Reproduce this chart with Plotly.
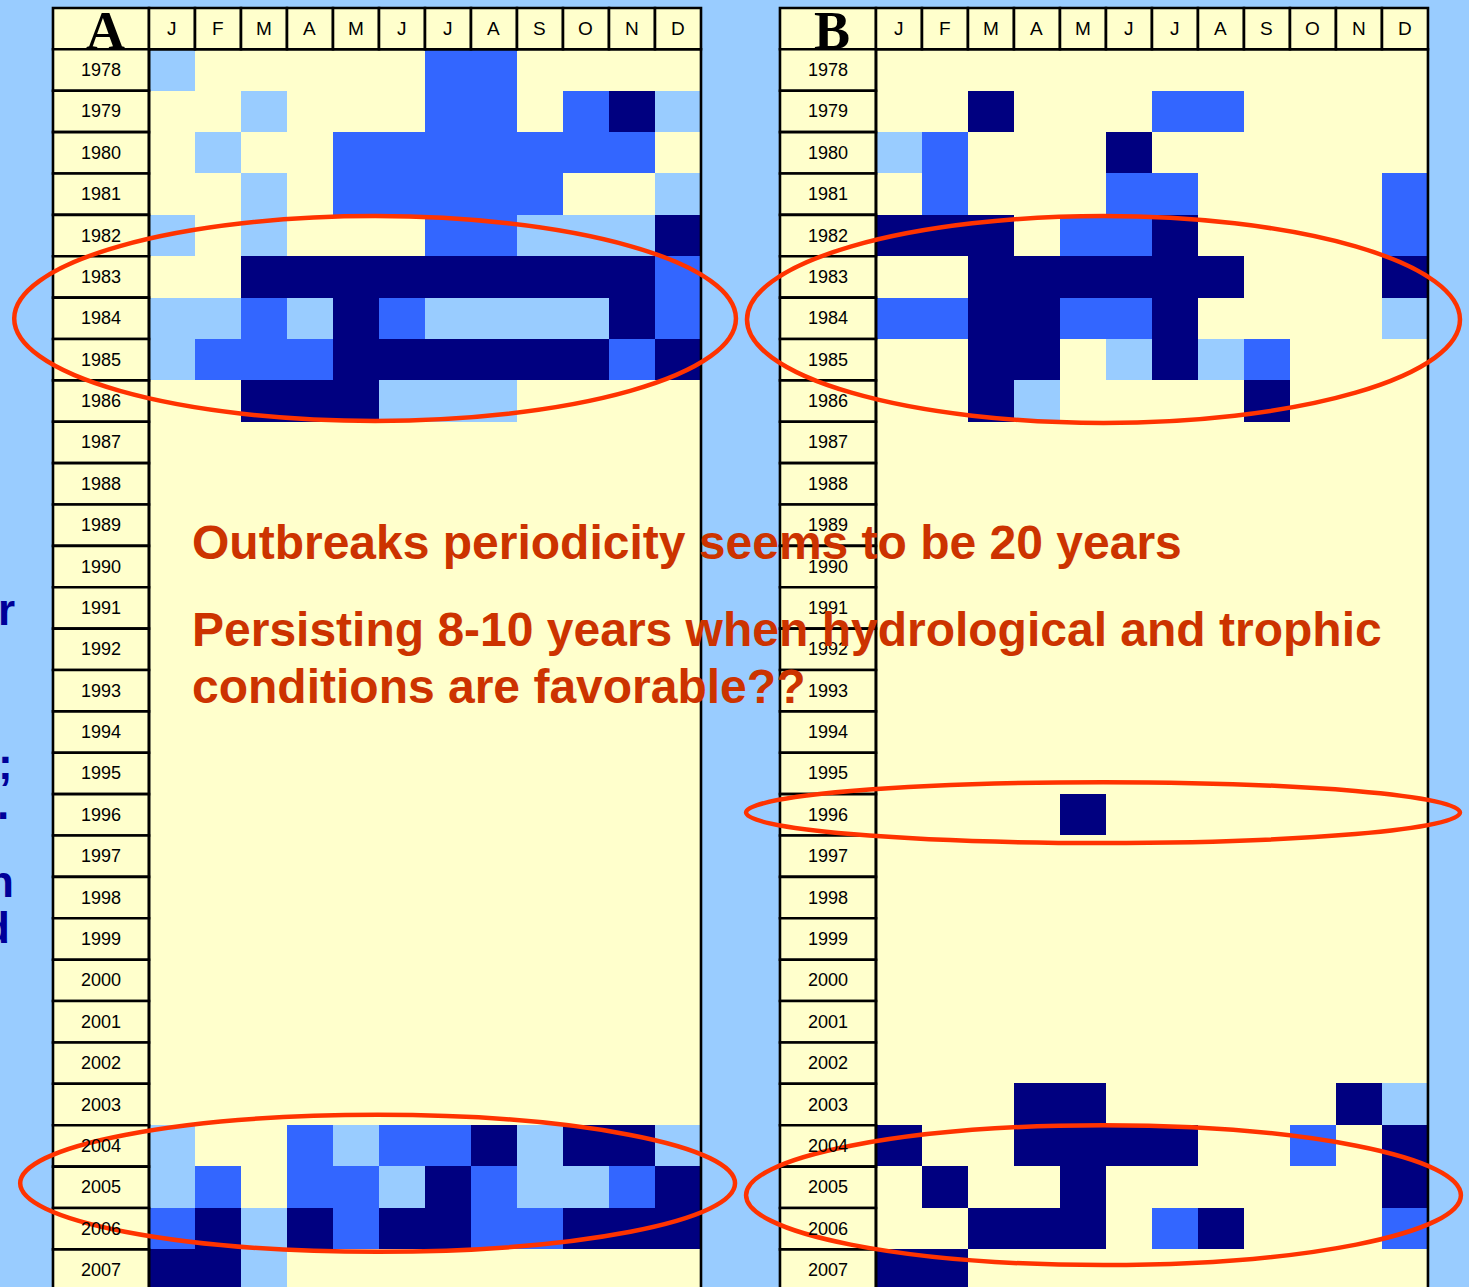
import plotly.graph_objects as go

# Monthly outbreak intensity (0 = none, 1 = low, 2 = medium, 3 = high)
MONTHS = ["J", "F", "M", "A", "M", "J", "J", "A", "S", "O", "N", "D"]
YEARS = list(range(1978, 2008))

PANEL_A = [
    "100000220000",  # 1978
    "001000220231",  # 1979
    "010022222220",  # 1980
    "001022222001",  # 1981
    "101000221113",  # 1982
    "003333333332",  # 1983
    "112132111132",  # 1984
    "122233333323",  # 1985
    "003331110000",  # 1986
    "000000000000",  # 1987
    "000000000000",  # 1988
    "000000000000",  # 1989
    "000000000000",  # 1990
    "000000000000",  # 1991
    "000000000000",  # 1992
    "000000000000",  # 1993
    "000000000000",  # 1994
    "000000000000",  # 1995
    "000000000000",  # 1996
    "000000000000",  # 1997
    "000000000000",  # 1998
    "000000000000",  # 1999
    "000000000000",  # 2000
    "000000000000",  # 2001
    "000000000000",  # 2002
    "000000000000",  # 2003
    "100212231331",  # 2004
    "120221321123",  # 2005
    "231323322333",  # 2006
    "331000000000",  # 2007
]

PANEL_B = [
    "000000000000",  # 1978
    "003000220000",  # 1979
    "120003000000",  # 1980
    "020002200002",  # 1981
    "333022300002",  # 1982
    "003333330003",  # 1983
    "223322300001",  # 1984
    "003301312000",  # 1985
    "003100003000",  # 1986
    "000000000000",  # 1987
    "000000000000",  # 1988
    "000000000000",  # 1989
    "000000000000",  # 1990
    "000000000000",  # 1991
    "000000000000",  # 1992
    "000000000000",  # 1993
    "000000000000",  # 1994
    "000000000000",  # 1995
    "000030000000",  # 1996
    "000000000000",  # 1997
    "000000000000",  # 1998
    "000000000000",  # 1999
    "000000000000",  # 2000
    "000000000000",  # 2001
    "000000000000",  # 2002
    "000330000031",  # 2003
    "300333300203",  # 2004
    "030030000003",  # 2005
    "003330230002",  # 2006
    "330000000000",  # 2007
]

PANEL_LETTERS = ["A", "B"]
NOTE_LINES = [
    "Outbreaks periodicity seems to be 20 years",
    "Persisting 8-10 years when hydrological and trophic",
    "conditions are favorable??",
]

# colours
BG = "#99CCFF"
CELL = "#FFFFCC"
LEVEL_COLORS = ["#FFFFCC", "#99CCFF", "#3366FF", "#000080"]
RING = "#FF3300"
NOTE = "#CC3300"
SIDE = "#000099"

# layout geometry in axis units (one unit = one month column / one year row)
PANEL_OFFSET = [0.0, 15.804]     # x of the first month column centre
YEAR_COL_W = 2.087               # width of the year label column
X_RANGE = [-3.739, 28.196]
Y_RANGE = [2007.41, 1976.308]
HEADER_Y = YEARS[0] - 1

colorscale = []
for k, c in enumerate(LEVEL_COLORS):
    lo, hi = k / len(LEVEL_COLORS), (k + 1) / len(LEVEL_COLORS)
    colorscale += [[lo, c], [hi, c]]

fig = go.Figure()
shapes = []
annotations = []
LINE = dict(color="black", width=2.6)

for p, rows in enumerate([PANEL_A, PANEL_B]):
    off = PANEL_OFFSET[p]
    z = [[int(ch) for ch in r] for r in rows]
    fig.add_trace(go.Heatmap(
        z=z,
        x=[off + j for j in range(len(MONTHS))],
        y=YEARS,
        zmin=-0.5, zmax=3.5,
        colorscale=colorscale,
        showscale=False,
        hoverinfo="skip",
        xgap=0, ygap=0,
    ))
    left = off - 0.5 - YEAR_COL_W
    right = off + len(MONTHS) - 0.5
    # header row cells
    shapes.append(dict(type="rect", xref="x", yref="y", x0=left, x1=off - 0.5,
                       y0=HEADER_Y - 0.5, y1=HEADER_Y + 0.5,
                       fillcolor=CELL, line=LINE, layer="above"))
    for j, m in enumerate(MONTHS):
        shapes.append(dict(type="rect", xref="x", yref="y",
                           x0=off + j - 0.5, x1=off + j + 0.5,
                           y0=HEADER_Y - 0.5, y1=HEADER_Y + 0.5,
                           fillcolor=CELL, line=LINE, layer="above"))
        annotations.append(dict(x=off + j, y=HEADER_Y, xref="x", yref="y",
                                text=m, showarrow=False,
                                font=dict(family="Liberation Sans, Arial", size=19, color="black")))
    annotations.append(dict(x=left + YEAR_COL_W / 2 + 0.09, y=HEADER_Y + 0.06, xref="x", yref="y",
                            text="<b>%s</b>" % PANEL_LETTERS[p], showarrow=False,
                            font=dict(family="Liberation Serif, Times New Roman", size=54, color="black")))
    # year label cells
    for yr in YEARS:
        shapes.append(dict(type="rect", xref="x", yref="y", x0=left, x1=off - 0.5,
                           y0=yr - 0.5, y1=yr + 0.5,
                           fillcolor=CELL, line=LINE, layer="above"))
        annotations.append(dict(x=left + YEAR_COL_W / 2, y=yr, xref="x", yref="y",
                                text=str(yr), showarrow=False,
                                font=dict(family="Liberation Sans, Arial", size=18, color="black")))
    # frame around the data cells
    shapes.append(dict(type="rect", xref="x", yref="y", x0=off - 0.5, x1=right,
                       y0=HEADER_Y + 0.5, y1=YEARS[-1] + 1.5,
                       line=LINE, layer="above"))

# outbreak episodes circled on the grid
RINGS = [
    (-3.43, 12.26, 1981.53, 1986.48),
    (12.50, 28.00, 1981.53, 1986.53),
    (12.48, 28.00, 1995.21, 1996.68),
    (-3.30, 12.24, 2003.25, 2006.56),
    (12.48, 28.02, 2003.50, 2006.88),
]
for x0, x1, y0, y1 in RINGS:
    shapes.append(dict(type="circle", xref="x", yref="y", x0=x0, x1=x1, y0=y0, y1=y1,
                       line=dict(color=RING, width=4.5), layer="above"))

NOTE_FONT = dict(family="Liberation Sans, Arial", size=48, color=NOTE)
for txt, yy in zip(NOTE_LINES, [1989.43, 1991.51, 1992.89]):
    annotations.append(dict(x=0.40, y=yy, xref="x", yref="y", xanchor="left",
                            text="<b>%s</b>" % txt, showarrow=False, font=NOTE_FONT))

# clipped words from the neighbouring text column
SIDE_FONT = dict(family="Liberation Sans, Arial", size=44, color=SIDE)
for ch, xx, yy in [("r", -3.37, 1991.03), (";", -3.42, 1994.75), (".", -3.50, 1995.72),
                   ("n", -3.39, 1997.6), ("d", -3.47, 1998.72)]:
    annotations.append(dict(x=xx, y=yy, xref="x", yref="y", xanchor="right",
                            text="<b>%s</b>" % ch, showarrow=False, font=SIDE_FONT))

fig.update_layout(
    width=1469, height=1287,
    margin=dict(l=0, r=0, t=0, b=0),
    paper_bgcolor=BG, plot_bgcolor=BG,
    xaxis=dict(range=X_RANGE, visible=False, fixedrange=True, domain=[0, 1]),
    yaxis=dict(range=Y_RANGE, visible=False, fixedrange=True, domain=[0, 1]),
    shapes=shapes, annotations=annotations,
    showlegend=False,
)

fig.write_html("out.html")
